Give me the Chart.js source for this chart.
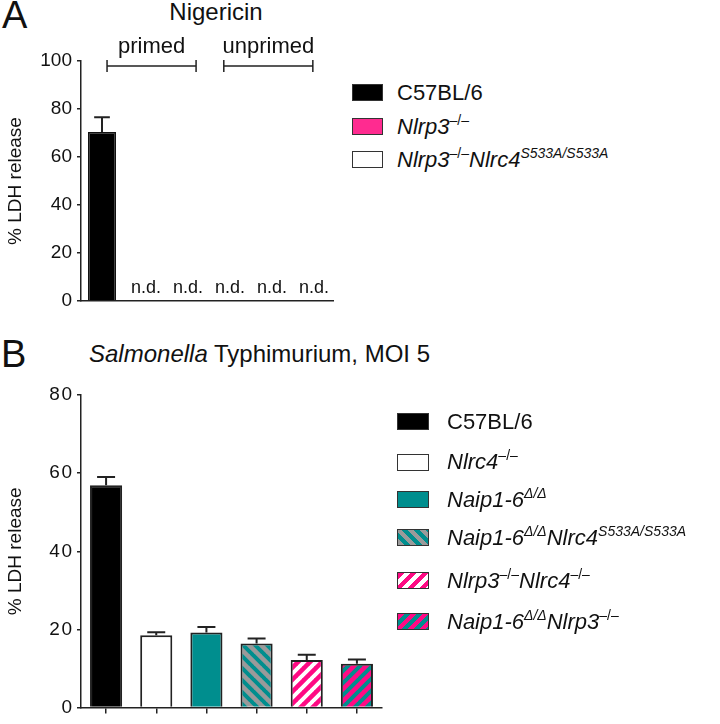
<!DOCTYPE html>
<html>
<head>
<meta charset="utf-8">
<script src="https://cdn.jsdelivr.net/npm/chart.js@4.4.1/dist/chart.umd.min.js"></script>
<style>
  html, body { margin: 0; padding: 0; background: #fff; }
  #page { position: relative; width: 720px; height: 724px; overflow: hidden;
          font-family: "Liberation Sans", Arial, sans-serif; color: #111; }
  .txt { position: absolute; white-space: nowrap; line-height: 1; }
  .sw { position: absolute; box-sizing: border-box; border: 1.5px solid #333; }
  sup { font-size: 14px; vertical-align: 9px; line-height: 0; }
  canvas { position: absolute; }
</style>
</head>
<body>
<div id="page">
  <div class="txt" style="left:2px;top:-4px;font-size:38px">A</div>
  <div class="txt" style="left:216px;top:0px;font-size:24px;transform:translateX(-50%)">Nigericin</div>
  <canvas id="chartA" width="345" height="330" style="left:0;top:0"></canvas>

  <div class="txt" style="left:1px;top:335px;font-size:38px">B</div>
  <div class="txt" style="left:89px;top:342px;font-size:24px"><i>Salmonella</i> Typhimurium, MOI 5</div>
  <canvas id="chartB" width="400" height="394" style="left:0;top:330px"></canvas>
</div>

<script>
// colours
const pinkA = '#ff2b90';
const pink = '#ff0a84';
const teal = '#008e8e';
const grey = '#9a9a9a';

// ---- Panel A data ----
const labelsA = ['C57BL/6 primed', 'Nlrp3 primed', 'Nlrp3 Nlrc4 primed',
                 'C57BL/6 unprimed', 'Nlrp3 unprimed', 'Nlrp3 Nlrc4 unprimed'];
const valuesA = [70.4, null, null, null, null, null];
const errorsA = [6.2, null, null, null, null, null];
const notDetectedA = [false, true, true, true, true, true];
const groupLabelsA = ['primed', 'unprimed'];
const yTicksA = [0, 20, 40, 60, 80, 100];

const legendA = [
  'C57BL/6',
  '<i>Nlrp3</i><sup>–/–</sup>',
  '<i>Nlrp3</i><sup>–/–</sup><i>Nlrc4</i><sup><i>S533A/S533A</i></sup>'
];

// ---- Panel B data ----
const labelsB = ['C57BL/6', 'Nlrc4-/-', 'Naip1-6 D/D', 'Naip1-6 D/D Nlrc4 S533A', 'Nlrp3-/- Nlrc4-/-', 'Naip1-6 D/D Nlrp3-/-'];
const valuesB = [56.9, 18.5, 19.2, 16.4, 12.2, 11.2];
const errorsB = [2.1, 0.8, 1.4, 1.3, 1.3, 1.1];
const yTicksB = [0, 20, 40, 60, 80];

const legendB = [
  'C57BL/6',
  '<i>Nlrc4</i><sup>–/–</sup>',
  '<i>Naip1-6</i><sup><i>Δ/Δ</i></sup>',
  '<i>Naip1-6</i><sup><i>Δ/Δ</i></sup><i>Nlrc4</i><sup><i>S533A/S533A</i></sup>',
  '<i>Nlrp3</i><sup>–/–</sup><i>Nlrc4</i><sup>–/–</sup>',
  '<i>Naip1-6</i><sup><i>Δ/Δ</i></sup><i>Nlrp3</i><sup>–/–</sup>'
];

// striped fill for bars
function stripes(ctx, bg, fg, dir) {
  const n = 12;
  const c = document.createElement('canvas');
  c.width = n; c.height = n;
  const g = c.getContext('2d');
  g.fillStyle = bg;
  g.fillRect(0, 0, n, n);
  g.strokeStyle = fg;
  g.lineWidth = 4;
  g.beginPath();
  for (const o of [-n, 0, n]) {
    if (dir === '/') { g.moveTo(o - 1, n + 1); g.lineTo(o + n + 1, -1); }
    else { g.moveTo(o - 1, -1); g.lineTo(o + n + 1, n + 1); }
  }
  g.stroke();
  return ctx.createPattern(c, 'repeat');
}

// one-sided error bars
function errorBarPlugin(errors) {
  return {
    id: 'errorBars',
    afterDatasetsDraw(chart) {
      const ctx = chart.ctx, y = chart.scales.y;
      const vals = chart.data.datasets[0].data;
      ctx.save();
      ctx.strokeStyle = '#222';
      ctx.lineWidth = 2;
      chart.getDatasetMeta(0).data.forEach((bar, i) => {
        if (vals[i] == null || errors[i] == null) return;
        const top = y.getPixelForValue(vals[i] + errors[i]);
        const half = bar.width * 0.28;
        ctx.beginPath();
        ctx.moveTo(bar.x, bar.y);
        ctx.lineTo(bar.x, top);
        ctx.moveTo(bar.x - half, top);
        ctx.lineTo(bar.x + half, top);
        ctx.stroke();
      });
      ctx.restore();
    }
  };
}

// n.d. text and primed / unprimed brackets for panel A
const annotateA = {
  id: 'annotateA',
  afterDraw(chart) {
    const ctx = chart.ctx, x = chart.scales.x, y = chart.scales.y;
    const area = chart.chartArea;
    ctx.save();
    ctx.fillStyle = '#111';
    ctx.font = '18px "Liberation Sans", Arial, sans-serif';
    ctx.textAlign = 'center';
    ctx.textBaseline = 'alphabetic';
    notDetectedA.forEach((nd, i) => {
      if (nd) ctx.fillText('n.d.', x.getPixelForValue(i) + 2, y.getPixelForValue(0) - 8);
    });
    // bracket spans in category units
    const spans = [[0.12, 2.24], [2.9, 5.02]];
    ctx.strokeStyle = '#222';
    ctx.lineWidth = 1.5;
    ctx.font = '22px "Liberation Sans", Arial, sans-serif';
    const by = area.top + 5;
    groupLabelsA.forEach((lab, k) => {
      const x1 = x.getPixelForValue(spans[k][0]);
      const x2 = x.getPixelForValue(spans[k][1]);
      ctx.beginPath();
      ctx.moveTo(x1, by); ctx.lineTo(x2, by);
      ctx.moveTo(x1, by - 6); ctx.lineTo(x1, by + 6);
      ctx.moveTo(x2, by - 6); ctx.lineTo(x2, by + 6);
      ctx.stroke();
      ctx.fillText(lab, (x1 + x2) / 2, area.top - 8);
    });
    ctx.restore();
  }
};

const font = { family: '"Liberation Sans", Arial, sans-serif' };

function yAxis(max, ticks, spaced) {
  return {
    min: 0, max: max,
    afterFit(s) { s.width = 81; },
    afterBuildTicks(s) { s.ticks = ticks.map(v => ({ value: v })); },
    ticks: {
      color: '#111', padding: 5, font: { ...font, size: 19 },
      callback: v => spaced ? String(v).split('').join('\u200a') : String(v)
    },
    grid: { display: true, drawOnChartArea: false, drawTicks: true, tickLength: 4, color: '#222', lineWidth: 1.5 },
    border: { display: true, color: '#222', width: 1.5 },
    title: { display: true, text: '% LDH release', color: '#111', padding: { top: 4, bottom: 0 },
             font: { ...font, size: 19 } }
  };
}

// ---- Chart A ----
const ctxA = document.getElementById('chartA').getContext('2d');
new Chart(ctxA, {
  type: 'bar',
  data: {
    labels: labelsA,
    datasets: [{
      data: valuesA,
      backgroundColor: ['#000', pinkA, '#fff', '#000', pinkA, '#fff'],
      borderColor: '#111',
      borderWidth: 1.5,
      categoryPercentage: 1,
      barPercentage: 0.667
    }]
  },
  options: {
    responsive: false,
    animation: false,
    layout: { padding: { top: 61, right: 12, bottom: 29, left: 0 } },
    plugins: { legend: { display: false }, tooltip: { enabled: false } },
    scales: {
      x: {
        afterFit(s) { s.height = 0; },
        ticks: { display: false },
        grid: { display: false },
        border: { display: true, color: '#222', width: 1.5 }
      },
      y: yAxis(100, yTicksA, false)
    }
  },
  plugins: [errorBarPlugin(errorsA), annotateA]
});

// ---- Chart B ----
const ctxB = document.getElementById('chartB').getContext('2d');
const fillsB = ['#000', '#fff', teal,
  stripes(ctxB, grey, teal, '\\'),
  stripes(ctxB, pink, '#fff', '/'),
  stripes(ctxB, pink, teal, '/')];
new Chart(ctxB, {
  type: 'bar',
  data: {
    labels: labelsB,
    datasets: [{
      data: valuesB,
      backgroundColor: fillsB,
      borderColor: '#222',
      borderWidth: 2,
      categoryPercentage: 1,
      barPercentage: 0.64
    }]
  },
  options: {
    responsive: false,
    animation: false,
    layout: { padding: { top: 65, right: 18, bottom: 0, left: 0 } },
    plugins: { legend: { display: false }, tooltip: { enabled: false } },
    scales: {
      x: {
        afterFit(s) { s.height = 10; },
        ticks: { display: false },
        grid: { display: true, offset: false, drawOnChartArea: false, drawTicks: true, tickLength: 6, color: '#222', lineWidth: 1.5 },
        border: { display: true, color: '#222', width: 1.5 }
      },
      y: yAxis(80, yTicksB, true)
    }
  },
  plugins: [errorBarPlugin(errorsB)]
});

// ---- legends (HTML, for italics and superscripts) ----
const page = document.getElementById('page');
function legend(items, swatches, swLeft, swW, textLeft, centers) {
  items.forEach((html, i) => {
    const sw = document.createElement('div');
    sw.className = 'sw';
    sw.style.left = swLeft + 'px';
    sw.style.top = (centers[i] - 8.5) + 'px';
    sw.style.width = swW + 'px';
    sw.style.height = '17px';
    sw.style.background = swatches[i];
    page.appendChild(sw);
    const t = document.createElement('div');
    t.className = 'txt';
    t.style.left = textLeft + 'px';
    t.style.top = (centers[i] - 11) + 'px';
    t.style.fontSize = '22px';
    t.innerHTML = html;
    page.appendChild(t);
  });
}
legend(legendA, ['#000', pinkA, '#fff'], 352, 31, 397, [92.5, 126.5, 159.5]);
legend(legendB, ['#000', '#fff', teal,
  'repeating-linear-gradient(45deg,' + grey + ' 0 4.5px,' + teal + ' 4.5px 8.5px)',
  'repeating-linear-gradient(135deg,' + pink + ' 0 4.5px,#fff 4.5px 8.5px)',
  'repeating-linear-gradient(135deg,' + pink + ' 0 4.5px,' + teal + ' 4.5px 8.5px)'],
  397, 32, 447, [421.5, 462, 499.5, 537.5, 580.5, 621.5]);
</script>
</body>
</html>
